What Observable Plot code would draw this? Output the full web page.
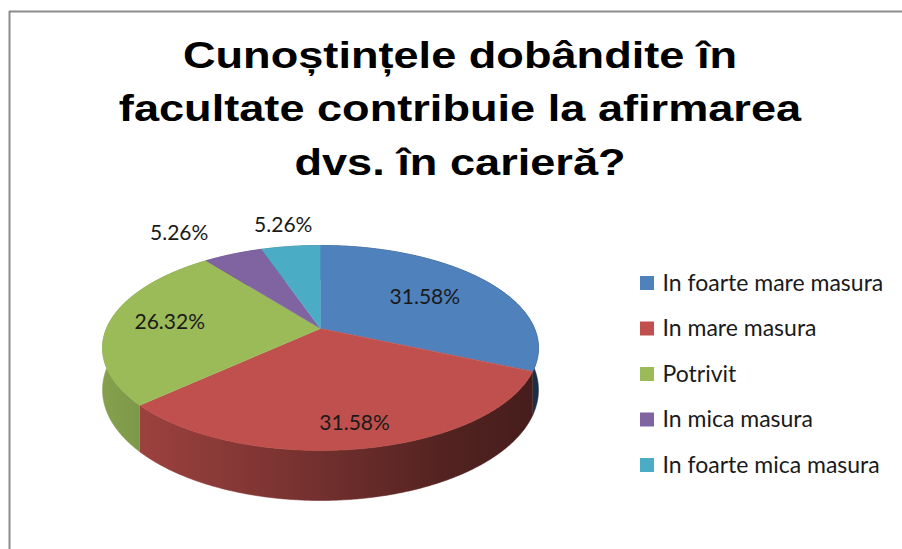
<!DOCTYPE html>
<html><head><meta charset="utf-8">
<script src="https://cdn.jsdelivr.net/npm/d3@7"></script>
<script src="https://cdn.jsdelivr.net/npm/@observablehq/plot@0.6"></script>
<style>html,body{margin:0;padding:0;background:#fff;}</style>
</head><body><div id="chart"></div>
<script>
// ---- data ----
const categories = ["In foarte mare masura", "In mare masura", "Potrivit", "In mica masura", "In foarte mica masura"];
const percentages = [31.58, 31.58, 26.32, 5.26, 5.26];
const colors = ["#4f81bd", "#c0504d", "#9bbb59", "#8064a2", "#4bacc6"];
const titleLines = ["Cunoștințele dobândite în", "facultate contribuie la afirmarea", "dvs. în carieră?"];

// ---- layout ----
const W = 902, H = 549;
const cx = 320, cy = 328, Rx = 214, Ry = 98.8, persp = 0.19, depth = 40.5;
const labelRadius = [0.62, 0.82, 0.715, 1.35, 1.32];
const titleX = 460, titleStretch = 1.22;

function proj(phi, f = 1) {
  const X = f * Math.sin(phi), Z = f * Math.cos(phi);
  const s = 1 / (1 + persp * Z);
  return {x: cx + Rx * X * s, y: cy - Ry * Z * s, s};
}

const arcs = d3.pie().sort(null).value(d => d)(percentages);
const step = Math.PI / 360;

function arcPoints(a0, a1) {
  const n = Math.max(2, Math.ceil((a1 - a0) / step));
  return d3.range(n + 1).map(k => proj(a0 + (a1 - a0) * k / n));
}

const tops = arcs.map((a, i) => [{x: cx, y: cy}, ...arcPoints(a.startAngle, a.endAngle)]);
const sides = arcs.map((a, i) => {
  const pts = arcPoints(a.startAngle, a.endAngle);
  const bottom = pts.map(p => ({x: p.x, y: p.y + depth * p.s})).reverse();
  return [...pts, ...bottom];
});

const labels = arcs.map((a, i) => {
  const mid = (a.startAngle + a.endAngle) / 2;
  const p = proj(mid, labelRadius[i]);
  const anchor = labelRadius[i] > 1 && Math.sin(mid) < -0.3 ? "end" : "middle";
  return {x: p.x, y: p.y, text: percentages[i].toFixed(2) + "%", anchor};
});

const legendX = 640, legendY0 = 283, legendStep = 45.5, box = 14;
const legend = categories.map((c, i) => ({
  name: c, color: colors[i], y: legendY0 + i * legendStep
}));

const titleData = titleLines.map((t, i) => ({t, y: 56 + i * 53.5}));

const marks = [
  Plot.ruleY([11], {x1: 9, x2: W, stroke: "#8c8c8c", strokeWidth: 2}),
  Plot.ruleX([9], {y1: 11, y2: H, stroke: "#8c8c8c", strokeWidth: 2}),
  ...sides.map((pts, i) => Plot.line(pts, {x: "x", y: "y", fill: `url(#side${i})`, stroke: `url(#side${i})`, strokeWidth: 0.6})),
  ...tops.map((pts, i) => Plot.line(pts, {x: "x", y: "y", fill: colors[i], stroke: colors[i], strokeWidth: 0.6})),
  Plot.text(labels.filter(d => d.anchor === "middle"), {x: "x", y: "y", text: "text", textAnchor: "middle", fontSize: 21, fontFamily: "Lato", fill: "#1a1a1a"}),
  Plot.text(labels.filter(d => d.anchor === "end"), {x: "x", y: "y", text: "text", textAnchor: "end", fontSize: 21, fontFamily: "Lato", fill: "#1a1a1a"}),
  Plot.rect(legend, {x1: legendX, x2: legendX + box, y1: d => d.y - box / 2, y2: d => d.y + box / 2, fill: "color"}),
  Plot.text(legend, {x: legendX + 22, y: "y", text: "name", textAnchor: "start", fontSize: 23, fontFamily: "Lato", fill: "#1a1a1a"}),
  Plot.text(titleData, {x: titleX, y: "y", text: "t", textAnchor: "middle", fontSize: 37, fontWeight: "bold", fontFamily: "Liberation Sans, Arial, sans-serif", fill: "#000"})
];

const chart = Plot.plot({
  width: W, height: H, margin: 0,
  x: {type: "linear", domain: [0, W], range: [0, W], axis: null},
  y: {type: "linear", domain: [0, H], range: [0, H], axis: null},
  color: {type: "identity"},
  style: {background: "#fff", overflow: "visible"},
  marks
});

// stretch the title horizontally like the original
const textGroups = chart.querySelectorAll('g[aria-label="text"]');
const titleGroup = textGroups[textGroups.length - 1];
titleGroup.setAttribute("transform", `translate(${titleX},0) scale(${titleStretch},1) translate(${-titleX},0)`);

// side gradients (darker toward the right)
const ns = "http://www.w3.org/2000/svg";
const defs = document.createElementNS(ns, "defs");
colors.forEach((c, i) => {
  const g = document.createElementNS(ns, "linearGradient");
  g.setAttribute("id", "side" + i);
  g.setAttribute("gradientUnits", "userSpaceOnUse");
  g.setAttribute("x1", cx - Rx - 6); g.setAttribute("x2", cx + Rx + 6);
  g.setAttribute("y1", 0); g.setAttribute("y2", 0);
  [[0, 0.86], [0.45, 0.62], [0.8, 0.42], [1, 0.36]].forEach(([o, k]) => {
    const base = d3.rgb(c);
    const st = document.createElementNS(ns, "stop");
    st.setAttribute("offset", o);
    st.setAttribute("stop-color", d3.rgb(base.r * k, base.g * k, base.b * k).formatHex());
    g.appendChild(st);
  });
  defs.appendChild(g);
});
chart.insertBefore(defs, chart.firstChild);
document.getElementById("chart").appendChild(chart);
</script>
</body></html>
